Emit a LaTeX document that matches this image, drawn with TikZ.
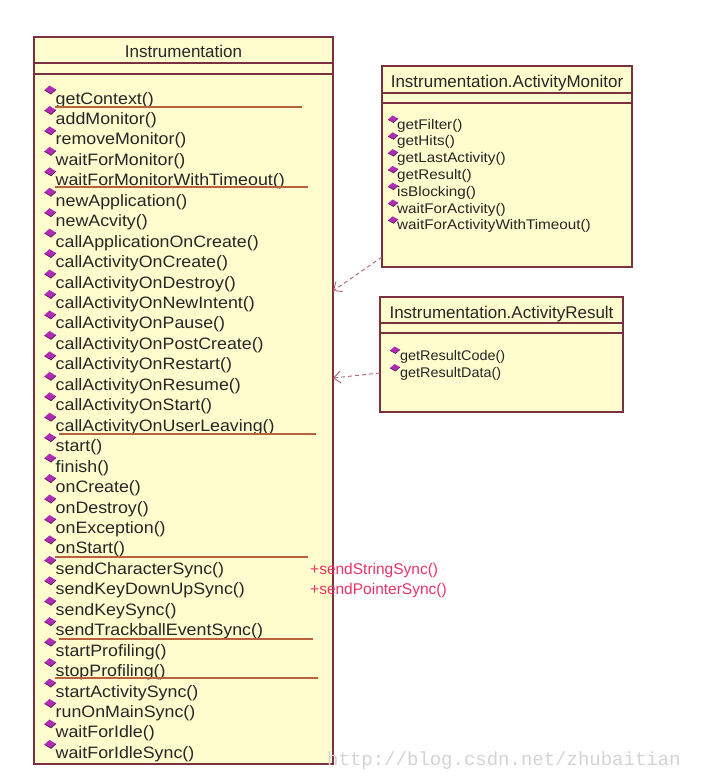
\documentclass[tikz,border=0pt]{standalone}
\usepackage{fontspec}
\setmainfont{Liberation Sans}
\newfontfamily\itemfont[FakeStretch=1.08]{Liberation Sans}
\newfontfamily\amfont[FakeStretch=1.09]{Liberation Sans}
\newfontfamily\arfont[FakeStretch=1.03]{Liberation Sans}
\newfontfamily\wmfont{Liberation Mono}
\usetikzlibrary{arrows.meta}
\definecolor{boxline}{RGB}{122,48,62}
\definecolor{boxfill}{RGB}{255,253,206}
\definecolor{sepline}{RGB}{184,98,62}
\definecolor{gemcol}{RGB}{175,45,180}
\definecolor{gemdark}{RGB}{100,20,100}
\definecolor{depcol}{RGB}{175,95,120}
\definecolor{addtxt}{RGB}{232,52,102}
\definecolor{wmark}{RGB}{212,212,212}
\begin{document}
\begin{tikzpicture}[x=1pt,y=-1pt,
  umlbox/.style={draw=boxline, fill=boxfill, line width=1.2pt, inner sep=0pt, outer sep=0pt, anchor=north west},
  compline/.style={draw=boxline, line width=1.2pt},
  ttl/.style={font=\fontsize{17}{19}\selectfont, inner sep=0pt, anchor=base, text=black!85},
  itm/.style={font=\fontsize{16.5}{18}\itemfont, inner sep=0pt, anchor=base west, text=black!85},
  amitm/.style={font=\fontsize{14}{16}\amfont, inner sep=0pt, anchor=base west, text=black!85},
  aritm/.style={font=\fontsize{14}{16}\arfont, inner sep=0pt, anchor=base west, text=black!85},
  addt/.style={font=\fontsize{15.5}{17}\selectfont, inner sep=0pt, anchor=base west, text=addtxt},
  sepl/.style={draw=sepline, line width=1.3pt},
  depline/.style={draw=depcol, line width=0.9pt, dash pattern=on 4pt off 3pt, -{Straight Barb[length=7pt,width=12pt]}},
  gem/.pic={\fill[gemcol] (-6,0) -- (-1,-4.5) -- (5.5,-0.5) -- (0.5,4) -- cycle;
            \draw[gemdark, line width=0.7pt] (5.5,-0.5) -- (0.5,4) -- (-6,0);},
  smallgem/.pic={\fill[gemcol] (-5,0.5) -- (-0.5,-3.5) -- (5,-0.5) -- (0.5,3.5) -- cycle;
            \draw[gemdark, line width=0.6pt] (5,-0.5) -- (0.5,3.5) -- (-5,0.5);}
]
\fill[white] (0,0) rectangle (706,776);
\useasboundingbox (0,0) rectangle (706,776);

% ---------- Instrumentation ----------
\node[umlbox, minimum width=299pt, minimum height=727pt] (instr) at (34,37) {};
\coordinate (iy1) at (0,63);
\coordinate (iy2) at (0,74);
\draw[compline] (instr.west |- iy1) -- (instr.east |- iy1);
\draw[compline] (instr.west |- iy2) -- (instr.east |- iy2);
\node[ttl] (instrT) at (183.5,58) {Instrumentation};

\foreach \t [count=\i from 0] in {getContext(),addMonitor(),removeMonitor(),waitForMonitor(),waitForMonitorWithTimeout(),newApplication(),newAcvity(),callApplicationOnCreate(),callActivityOnCreate(),callActivityOnDestroy(),callActivityOnNewIntent(),callActivityOnPause(),callActivityOnPostCreate(),callActivityOnRestart(),callActivityOnResume(),callActivityOnStart(),callActivityOnUserLeaving(),start(),finish(),onCreate(),onDestroy(),onException(),onStart(),sendCharacterSync(),sendKeyDownUpSync(),sendKeySync(),sendTrackballEventSync(),startProfiling(),stopProfiling(),startActivitySync(),runOnMainSync(),waitForIdle(),waitForIdleSync()} {
  \pgfmathsetmacro\yb{104+20.45*\i}
  \node[itm] (m\i) at (55.5,\yb) {\t};
  \pic at (50.5,\yb-14) {gem};
}

\draw[sepl] (55,107) -- (302,107);
\draw[sepl] (55,187) -- (308,187);
\draw[sepl] (59,434) -- (316,434);
\draw[sepl] (55,557) -- (308,557);
\draw[sepl] (59,639) -- (313,639);
\draw[sepl] (55,678) -- (318,678);

\node[addt] (add1) at (310,574) {+sendStringSync()};
\node[addt] (add2) at (310,594.5) {+sendPointerSync()};

% ---------- ActivityMonitor ----------
\node[umlbox, minimum width=250pt, minimum height=201pt] (amon) at (382,66) {};
\coordinate (ay1) at (0,93);
\coordinate (ay2) at (0,103);
\draw[compline] (amon.west |- ay1) -- (amon.east |- ay1);
\draw[compline] (amon.west |- ay2) -- (amon.east |- ay2);
\node[ttl] (amonT) at (507,88) {Instrumentation.ActivityMonitor};
\foreach \t [count=\i from 0] in {getFilter(),getHits(),getLastActivity(),getResult(),isBlocking(),waitForActivity(),waitForActivityWithTimeout()} {
  \pgfmathsetmacro\yb{129+16.8*\i}
  \node[amitm] (a\i) at (397,\yb) {\t};
  \pic at (393,\yb-10) {smallgem};
}

% ---------- ActivityResult ----------
\node[umlbox, minimum width=243pt, minimum height=115pt] (ares) at (380,297) {};
\coordinate (ry1) at (0,323);
\coordinate (ry2) at (0,333);
\draw[compline] (ares.west |- ry1) -- (ares.east |- ry1);
\draw[compline] (ares.west |- ry2) -- (ares.east |- ry2);
\node[ttl] (aresT) at (501.5,318) {Instrumentation.ActivityResult};
\foreach \t [count=\i from 0] in {getResultCode(),getResultData()} {
  \pgfmathsetmacro\yb{360+17.5*\i}
  \node[aritm] (r\i) at (400,\yb) {\t};
  \pic at (395,\yb-10) {smallgem};
}

% ---------- dependencies ----------
\coordinate (d1s) at (0,257);
\coordinate (d1e) at (0,291);
\coordinate (d2s) at (0,373);
\coordinate (d2e) at (0,378);
\draw[depline] (amon.west |- d1s) -- (instr.east |- d1e);
\draw[depline] (ares.west |- d2s) -- (instr.east |- d2e);

% ---------- watermark ----------
\node[font=\fontsize{19}{21}\wmfont, text=wmark, inner sep=0pt, anchor=base west] (wm) at (327,765) {http://blog.csdn.net/zhubaitian};
\end{tikzpicture}
\end{document}
